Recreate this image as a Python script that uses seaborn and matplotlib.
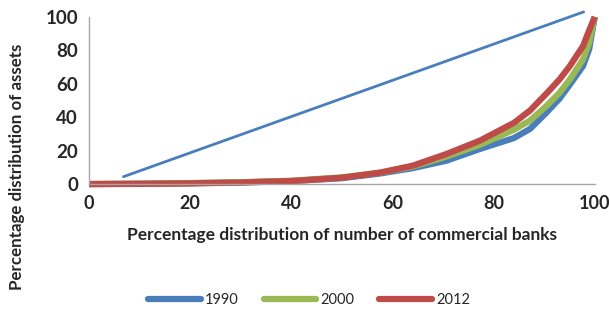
import seaborn as sns
import matplotlib.pyplot as plt
import pandas as pd

sns.set_style("white")
plt.rcParams["font.family"] = ["Lato", "DejaVu Sans"]

# Lorenz-type curves
share_banks = [0, 10, 20, 30, 40, 50, 57.5, 64, 70.7, 77.3, 84, 87.2, 90.4,
               93, 95.1, 97.7, 98.9, 100]
assets_1990 = [0, 0.2, 0.5, 1.0, 1.8, 3.5, 6.3, 9.5, 14.0, 21.0, 27.5, 33.0,
               42.6, 51.0, 59.6, 70.7, 80.7, 100]
assets_2000 = [0, 0.2, 0.6, 1.1, 2.0, 4.0, 6.8, 10.5, 16.5, 23.5, 32.5, 38.0,
               46.6, 54.5, 62.7, 74.7, 84.7, 100]
assets_2012 = [0, 0.1, 0.4, 0.9, 1.8, 3.8, 6.8, 11.0, 18.0, 26.0, 36.6, 44.0,
               54.0, 62.5, 70.7, 82.7, 92.0, 100]
years = ["1990", "2000", "2012"]

# straight reference line
ref_x = [6.8, 97.8]
ref_y = [4.4, 103]

colors = {"1990": "#4A7EBB", "2000": "#98B954", "2012": "#BE4B48"}

df = pd.DataFrame({
    "banks": share_banks * 3,
    "assets": assets_1990 + assets_2000 + assets_2012,
    "year": [y for y in years for _ in share_banks],
})

fig = plt.figure(figsize=(6.10, 3.19), dpi=100)
ax = fig.add_axes([0.146, 0.423, 0.829, 0.524])

ax.plot(ref_x, ref_y, color=colors["1990"], lw=2, clip_on=False, zorder=1)
sns.lineplot(data=df, x="banks", y="assets", hue="year", palette=colors,
             linewidth=4.5, ax=ax, legend=False, sort=False,
             solid_capstyle="butt", solid_joinstyle="round", clip_on=False)

ax.set_xlim(0, 100)
ax.set_ylim(0, 100)
ax.set_xticks(range(0, 101, 20))
ax.set_yticks(range(0, 101, 20))
for s in ["top", "right"]:
    ax.spines[s].set_visible(False)
for s in ["left", "bottom"]:
    ax.spines[s].set_color("#A6A6A6")
    ax.spines[s].set_linewidth(1)
ax.tick_params(axis="both", direction="out", length=5, color="#A6A6A6",
               labelsize=13.5, pad=3)
ax.tick_params(axis="x", labelsize=13)
for lab in ax.get_xticklabels() + ax.get_yticklabels():
    lab.set_fontweight("bold")

ax.set_xlabel("Percentage distribution of number of commercial banks",
              fontsize=12.5, fontweight="bold", labelpad=11)
ax.set_ylabel("")
fig.text(0.028, 0.476, "Percentage distribution of assets", rotation=90,
         fontsize=12.2, fontweight="bold", ha="center", va="center")

handles = [plt.Line2D([], [], color=colors[y], lw=4.5) for y in years]
fig.legend(handles, years, loc="center", bbox_to_anchor=(0.507, 0.06),
           ncol=3, frameon=False, fontsize=10.5, handlelength=3.6,
           handletextpad=0.3, columnspacing=1.7)

fig.savefig("out.png", dpi=100)
plt.close()
